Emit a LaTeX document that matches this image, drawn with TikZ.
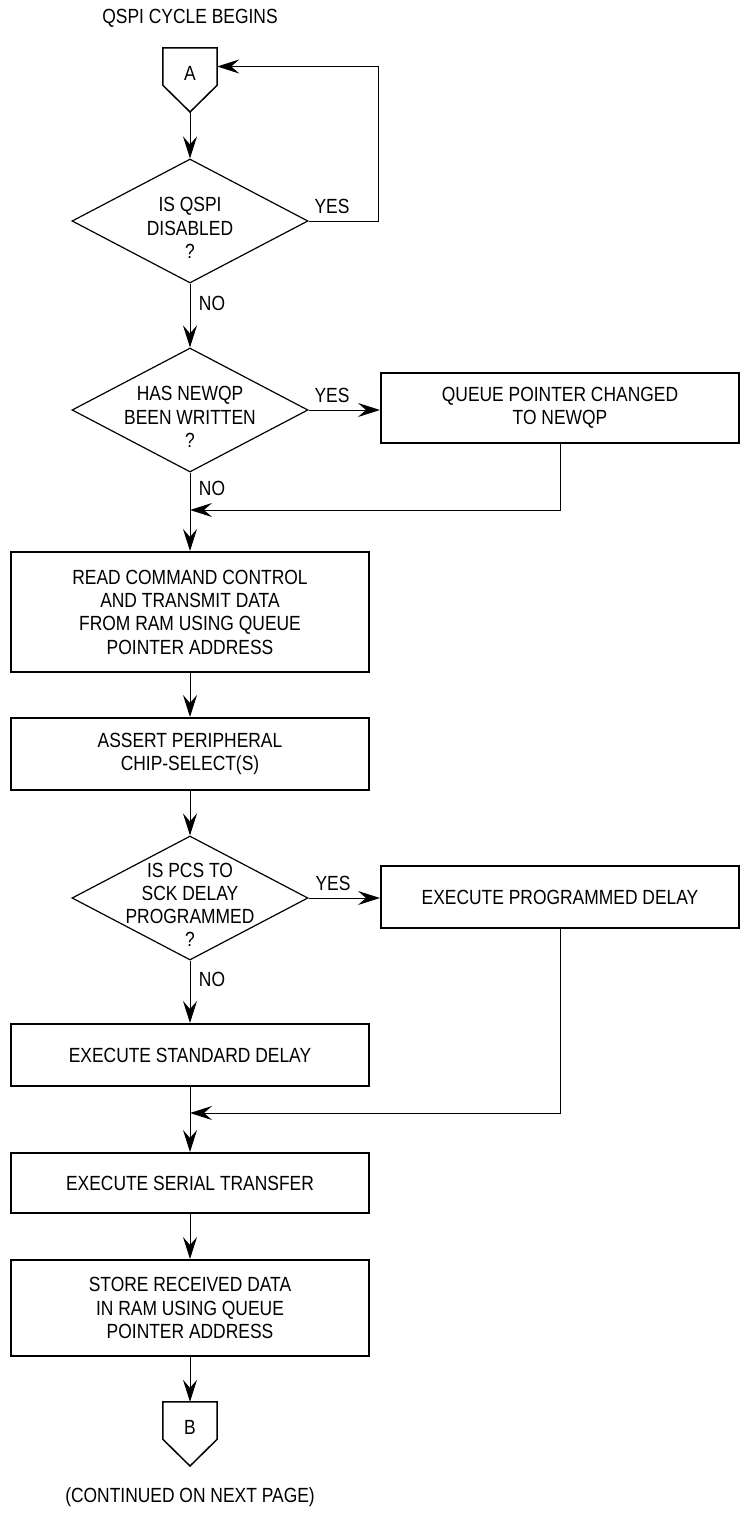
\documentclass[tikz,border=0pt]{standalone}
\usepackage{fontspec}
\setmainfont{Liberation Sans}[FakeStretch=0.85]
\usepackage{tikz}
\usetikzlibrary{arrows.meta, positioning, shapes.geometric}
\tikzset{>=Stealth}

\begin{document}
\begin{tikzpicture}[x=1bp, y=-1bp,
    font=\fontsize{20.5bp}{23.3bp}\selectfont,
    flowbox/.style={draw, line width=2bp, minimum width=358bp, inner sep=0pt, align=center},
    decision/.style={draw, diamond, line width=1.2bp, aspect=1.9, minimum width=236bp,
      minimum height=124bp, inner sep=-25bp, align=center},
    offpage/.style={minimum width=54bp, minimum height=37bp, inner sep=0pt},
    wire/.style={line width=1bp},
    link/.style={wire, -{Stealth[length=22bp, width=14bp, inset=8bp]}}]
  \useasboundingbox (0,0) rectangle (743,1515);

  % Entry connector
  \node (title) at (190,18) {QSPI CYCLE BEGINS};
  \node[offpage] (A) at (190,66.5) {};
  \coordinate (Atip) at (190,112);
  \draw[line width=1.5bp] (A.north west) -- (A.south west) -- (Atip) -- (A.south east) -- (A.north east) -- cycle;
  \node (Aname) at (190,73) {A};

  % Decisions
  \node[decision] (dis) at (190,221) {\rule{0pt}{28bp}IS QSPI\\DISABLED\\?};
  \node[decision] (wr) at (190,410) {\rule{0pt}{28bp}HAS NEWQP\\BEEN WRITTEN\\?};
  \node[decision] (dly) at (190,898) {\rule{0pt}{28bp}IS PCS TO\\SCK DELAY\\PROGRAMMED\\?};

  % Steps
  \node[flowbox, minimum height=70bp] (newqp) at (560,408) {QUEUE POINTER CHANGED\\TO NEWQP};
  \node[flowbox, minimum height=120bp] (read) at (190,612) {READ COMMAND CONTROL\\AND TRANSMIT DATA\\FROM RAM USING QUEUE\\POINTER ADDRESS};
  \node[flowbox, minimum height=72bp] (pcs) at (190,754) {ASSERT PERIPHERAL\\CHIP-SELECT(S)};
  \node[flowbox, minimum height=62bp] (prog) at (560,897) {EXECUTE PROGRAMMED DELAY};
  \node[flowbox, minimum height=62bp] (std) at (190,1055) {EXECUTE STANDARD DELAY};
  \node[flowbox, minimum height=60bp] (xfer) at (190,1183) {EXECUTE SERIAL TRANSFER};
  \node[flowbox, minimum height=96bp] (store) at (190,1308) {STORE RECEIVED DATA\\IN RAM USING QUEUE\\POINTER ADDRESS};

  % Exit connector
  \node[offpage] (B) at (190,1420.5) {};
  \coordinate (Btip) at (190,1466);
  \draw[line width=1.5bp] (B.north west) -- (B.south west) -- (Btip) -- (B.south east) -- (B.north east) -- cycle;
  \node (Bname) at (190,1427) {B};
  \node (cont) at (190,1497) {(CONTINUED ON NEXT PAGE)};

  % Answers
  \node (yes1) at (332,206) {YES};
  \node (no1) at (212,303) {NO};
  \node (yes2) at (332,395) {YES};
  \node (no2) at (212,488) {NO};
  \node (yes3) at (333,883) {YES};
  \node (no3) at (212,979) {NO};

  % Flow lines
  \coordinate (join1) at (190,510);
  \coordinate (join2) at (190,1113);
  \draw[link] (Atip) -- (dis.north);
  \draw[link] (dis.east) -- ++(70,0) |- (A.east);
  \draw[link] (dis.south) -- (wr.north);
  \draw[link] (wr.east) -- (wr.east -| newqp.west);
  \draw[link] (newqp.south) |- (join1);
  \draw[link] (wr.south) -- (read.north);
  \draw[link] (read) -- (pcs);
  \draw[link] (pcs) -- (dly);
  \draw[link] (dly.east) -- (dly.east -| prog.west);
  \draw[link] (dly.south) -- (std.north);
  \draw[link] (prog.south) |- (join2);
  \draw[link] (std) -- (xfer);
  \draw[link] (xfer) -- (store);
  \draw[link] (store) -- (B.north);
\end{tikzpicture}
\end{document}
